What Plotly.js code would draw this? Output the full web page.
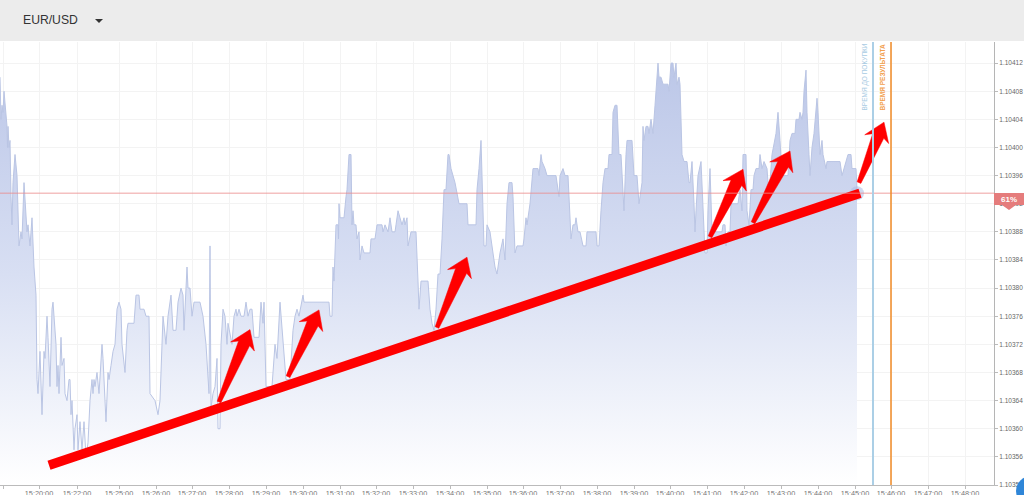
<!DOCTYPE html>
<html>
<head>
<meta charset="utf-8">
<script src="https://cdn.plot.ly/plotly-3.0.1.min.js"></script>
<style>
  html, body { margin: 0; padding: 0; background: #fff; overflow: hidden; }
  #chart { width: 1024px; height: 495px; }
  .topbar { position: absolute; left: 0; top: 0; width: 1024px; height: 41px; background: #ececec; z-index: 5; }
  .pair { position: absolute; left: 23px; top: 13px; font: 12.2px "Liberation Sans", Arial, sans-serif; color: #333; }
  .caret { position: absolute; left: 95px; top: 19px; width: 0; height: 0; border-left: 4px solid transparent; border-right: 4px solid transparent; border-top: 4px solid #333; }
  .bubble { position: absolute; left: 1016px; top: 476px; width: 30px; height: 30px; border-radius: 50%; background: #2f86d8; z-index: 5; }
</style>
</head>
<body>
<div class="topbar"><span class="pair">EUR/USD</span><span class="caret"></span></div>
<div id="chart"></div>
<div class="bubble"></div>
<script>
// quote number along the time axis (the axis labels are not evenly spaced in time)
const quoteNo = [0,1,2,3,4,7,7.5,8,9,10,11,12,13,15,17,18,19,21,22,24,26,27,28,30,32,34,36,37,38,40,42,44,45,47,48,50,52,53,56,57,58,59,61,62,64,65,67,69,70,71,72,74,75,77,78,80,82,84,86,88,90,92,93,94,95,97,99,100,102,103,106,108,109,111,113,115,117,119,121,122,125,127,128,134,136,139,140,144,146,149,150,
  155,158,160,162,163,166,168,171,173,176,178,181,183,184,187,188,190,192,194,200,203,206,207,209,210,211,213,215,217,218,220,221,223,225,227,228,232,234,236,237,239,241,244,246,248,250,252,254,259,261,263,264,266,272,275,277,280,283,286,290,293,295,297,299,303,304,329,330,332,333,334,336,338,338.5,339,340,344,346,347,349,351,352,353,354,356,357,359,360,362,364,370,371,375,377,382,383,385,388,390,392,395,396,398,400,402,404,405,407,408,411,416,418,419,421,428,430,432,434,436,438,440,442,444,446,448,449,451,455,459,467,468,476,477,479,481,482,484,486,487,490,492,495,497,499,500,503,505,507,509,512,513,515,517,523,524,526,527,530,531,533,538,539,541,542,545,547,556,557,559,560,563,565,568,571,573,575,576,578,580,583,586,587,596,597,599,601,603,605,608,609,612,613,615,617,619,621,623,624,626,627,632,633,634,637,639,642,643,644,646,648,649,651,653,655,658,659,661,663,668,669,671,673,674,676,677,679,680,682,684,687,689,690,692,694,695,696,698,701,703,705,707,708,710,712,715,718,722,723,725,726,728,730,731,738,740,742,743,746,747,749,751,753,754,756,759,760,762,764,767,769,772,776,778,780,782,788,790,792,795,796,799,800,802,803,804,806,807,809,810,812,814,817,818,820,822,823,826,827,840,842,844,848,851,852,856,857];

const quotePrice = [1.10410,1.10404,1.10406,1.10405,1.10408,1.10403,1.10400,1.10403,1.10400,1.10401,1.10393,1.10389,1.10395,1.10399,1.10396,1.10389,1.10386,1.10388,1.10387,1.10395,1.10389,1.10388,1.10389,1.10386,1.10390,1.10383,1.10379,1.10367,1.10365,1.10371,1.10362,1.10371,1.10370,1.10376,1.10373,1.10366,1.10377,1.10378,1.10372,1.10366,1.10369,1.10365,1.10373,1.10369,1.10370,1.10365,1.10364,1.10367,1.10367,1.10362,1.10364,1.10357,1.10360,1.10362,1.10357,1.10361,1.10357,1.10361,1.10356,1.10358,1.10364,1.10367,1.10365,1.10367,1.10366,1.10368,1.10365,1.10368,1.10372,1.10370,1.10361,1.10368,1.10367,1.10369,1.10371,1.10372,1.10377,1.10378,1.10377,1.10372,1.10368,1.10374,1.10375,1.10375,1.10379,1.10379,1.10377,1.10377,1.10376,1.10376,1.10365,
  1.10364,1.10362,1.10364,1.10372,1.10376,1.10372,1.10376,1.10379,1.10374,1.10374,1.10378,1.10380,1.10379,1.10374,1.10383,1.10380,1.10380,1.10376,1.10378,1.10378,1.10376,1.10372,1.10369,1.10365,1.10386,1.10363,1.10365,1.10366,1.10370,1.10360,1.10360,1.10372,1.10377,1.10376,1.10372,1.10375,1.10372,1.10376,1.10377,1.10376,1.10377,1.10376,1.10376,1.10378,1.10376,1.10377,1.10377,1.10373,1.10373,1.10378,1.10375,1.10378,1.10366,1.10366,1.10372,1.10370,1.10378,1.10372,1.10367,1.10367,1.10374,1.10376,1.10377,1.10376,1.10379,1.10378,1.10378,1.10376,1.10376,1.10383,1.10381,1.10389,1.10389,1.10387,1.10392,1.10390,1.10390,1.10393,1.10394,1.10399,1.10399,1.10389,1.10391,1.10389,1.10389,1.10387,1.10388,1.10384,1.10386,1.10385,1.10385,1.10387,1.10387,1.10389,1.10389,1.10388,1.10389,1.10388,1.10390,1.10388,1.10388,1.10389,1.10391,1.10390,1.10389,1.10390,1.10389,1.10390,1.10386,1.10388,1.10388,1.10381,1.10377,1.10381,1.10381,1.10377,1.10375,1.10374,1.10377,1.10382,1.10382,1.10387,1.10394,1.10394,1.10399,1.10399,1.10397,1.10395,1.10392,1.10392,1.10389,1.10389,1.10394,1.10397,1.10401,1.10396,1.10386,1.10386,1.10389,1.10388,1.10386,1.10383,1.10382,1.10384,1.10385,1.10387,1.10384,1.10392,1.10395,1.10395,1.10393,1.10385,1.10386,1.10386,1.10387,1.10390,1.10389,1.10392,1.10394,1.10397,1.10397,1.10396,1.10399,1.10398,1.10397,1.10396,1.10396,1.10395,1.10393,1.10396,1.10397,1.10396,1.10396,1.10387,1.10389,1.10389,1.10390,1.10388,1.10388,1.10386,1.10386,1.10388,1.10388,1.10386,1.10386,1.10391,1.10395,1.10397,1.10397,1.10399,1.10399,1.10405,1.10406,1.10406,1.10399,1.10399,1.10392,1.10391,1.10399,1.10401,1.10401,1.10399,1.10396,1.10396,1.10392,1.10395,1.10403,1.10401,1.10403,1.10403,1.10402,1.10404,1.10402,1.10406,1.10412,1.10410,1.10410,1.10409,1.10409,1.10408,1.10412,1.10412,1.10410,1.10412,1.10409,1.10410,1.10409,1.10399,1.10398,1.10398,1.10395,1.10395,1.10398,1.10392,1.10388,1.10391,1.10396,1.10398,1.10391,1.10385,1.10385,1.10391,1.10397,1.10388,1.10388,1.10388,1.10388,1.10389,1.10389,1.10386,1.10388,1.10388,1.10392,1.10392,1.10394,1.10391,1.10399,1.10399,1.10391,1.10389,1.10394,1.10394,1.10396,1.10397,1.10397,1.10399,1.10397,1.10398,1.10397,1.10393,1.10399,1.10402,1.10405,1.10401,1.10396,1.10396,1.10401,1.10402,1.10402,1.10404,1.10404,1.10405,1.10404,1.10405,1.10408,1.10411,1.10405,1.10399,1.10396,1.10400,1.10402,1.10407,1.10405,1.10399,1.10401,1.10399,1.10397,1.10398,1.10398,1.10396,1.10397,1.10399,1.10399,1.10397,1.10397,1.10394];

const tickQuote = [3,39,77,119,156,192,229,266,303,340,376,413,450,487,523,560,597,634,670,707,744,781,818,855,891,928,965];
const tickLabels = ['15:18:30','15:20:00','15:22:00','15:25:00','15:26:00','15:27:00','15:28:00','15:29:00','15:30:00','15:31:00','15:32:00','15:33:00','15:34:00','15:35:00','15:36:00','15:37:00','15:38:00','15:39:00','15:40:00','15:41:00','15:42:00','15:43:00','15:44:00','15:45:00','15:46:00','15:47:00','15:48:00'];

const currentPrice = 1.103935;
const buyLimitQuote = 873;
const resultQuote = 891;

// hand drawn trend line and arrows: [quote, price]
const trendFrom = [49, 1.103548];
const trendTo = [860, 1.103935];
const arrowTails = [[219,1.103638],[288,1.103674],[437,1.103744],[710,1.103873],[753,1.103893],[859,1.103950]];
const arrowTips = [[250,1.103741],[319,1.103769],[467,1.103844],[743,1.103969],[790,1.103995],[884,1.104036]];

const PRICE_SCALE = 703000; // screen units per 1.0 of price, keeps arrows in proportion

function arrowPolygon(tail, tip) {
    const dx = tip[0] - tail[0];
    const dy = (tip[1] - tail[1]) * PRICE_SCALE;
    const len = Math.hypot(dx, dy);
    const ux = dx / len, uy = dy / len;
    const nx = -uy, ny = ux;
    const pt = (along, side) => [
        tail[0] + ux * along + nx * side,
        tail[1] + (uy * along + ny * side) / PRICE_SCALE
    ];
    const pts = [pt(0, 2), pt(len - 15, 6), pt(len - 19, 13), pt(len, 0), pt(len - 18, -12.5), pt(len - 15, -6), pt(0, -2), pt(0, 2)];
    return { x: pts.map(p => p[0]), y: pts.map(p => p[1]) };
}

const traces = [
    {
        x: quoteNo,
        y: quotePrice,
        type: 'scatter',
        mode: 'lines',
        line: { color: '#bac5e4', width: 1 },
        fill: 'tozeroy',
        fillgradient: {
            type: 'vertical',
            start: 1.10352,
            stop: 1.10412,
            colorscale: [[0, '#ffffff'], [0.5, '#d8dff3'], [1, '#bcc7e8']]
        },
        hoverinfo: 'skip'
    },
    {
        x: [quoteNo[quoteNo.length - 1]],
        y: [currentPrice],
        type: 'scatter',
        mode: 'markers',
        marker: { size: 14, color: 'rgba(170,185,230,0.55)' },
        hoverinfo: 'skip'
    },
    {
        x: [trendFrom[0], trendTo[0]],
        y: [trendFrom[1], trendTo[1]],
        type: 'scatter',
        mode: 'lines',
        line: { color: '#ff0000', width: 9.5 },
        hoverinfo: 'skip'
    }
];

arrowTails.forEach((tail, i) => {
    const poly = arrowPolygon(tail, arrowTips[i]);
    traces.push({
        x: poly.x,
        y: poly.y,
        type: 'scatter',
        mode: 'lines',
        fill: 'toself',
        fillcolor: '#ff0000',
        line: { color: '#ff0000', width: 0.5 },
        hoverinfo: 'skip'
    });
});

const layout = {
    width: 1024,
    height: 495,
    margin: { l: 0, r: 30, t: 42, b: 10, pad: 0 },
    paper_bgcolor: '#ffffff',
    plot_bgcolor: '#ffffff',
    showlegend: false,
    hovermode: false,
    font: { family: '"Liberation Sans", Arial, sans-serif', size: 8, color: '#777' },
    xaxis: {
        range: [0, 994],
        tickvals: tickQuote,
        ticktext: tickLabels,
        tickangle: 0,
        ticks: 'outside',
        ticklen: 3,
        tickcolor: '#bbb',
        ticklabelstandoff: -2,
        gridcolor: '#f3f3f3',
        linecolor: '#bbb',
        showline: true,
        zeroline: false,
        tickfont: { size: 7.3, color: '#777' }
    },
    yaxis: {
        range: [1.10352, 1.10415],
        side: 'right',
        tick0: 1.10352,
        dtick: 0.00004,
        tickformat: '.5f',
        ticks: 'outside',
        ticklen: 3,
        tickcolor: '#bbb',
        gridcolor: '#f3f3f3',
        linecolor: '#b5b5b5',
        showline: true,
        zeroline: false,
        tickfont: { size: 6.5, color: '#666' }
    },
    shapes: [
        { type: 'line', xref: 'paper', x0: 0, x1: 1, yref: 'y', y0: currentPrice, y1: currentPrice, line: { color: 'rgba(235,140,140,0.55)', width: 1.5 } },
        { type: 'line', xref: 'x', x0: buyLimitQuote, x1: buyLimitQuote, yref: 'paper', y0: 0, y1: 1, line: { color: '#abcfe6', width: 2 } },
        { type: 'line', xref: 'x', x0: resultQuote, x1: resultQuote, yref: 'paper', y0: 0, y1: 1, line: { color: '#f08a24', width: 1.5 } },
        // the percentage flag on the price axis
        { type: 'path', xref: 'paper', yref: 'paper', path: 'M 1 0.659 L 1.031 0.659 L 1.031 0.632 L 1.022 0.632 L 1.0151 0.621 L 1.008 0.632 L 1 0.632 Z', fillcolor: '#e57c7c', line: { width: 0 } }
    ],
    annotations: [
        { text: 'ВРЕМЯ ДО ПОКУПКИ', xref: 'x', x: 864, yref: 'paper', y: 1, yanchor: 'top', textangle: -90, showarrow: false, font: { size: 6.5, color: '#a9cbe3' } },
        { text: '<b>ВРЕМЯ РЕЗУЛЬТАТА</b>', xref: 'x', x: 882, yref: 'paper', y: 1, yanchor: 'top', textangle: -90, showarrow: false, font: { size: 6.5, color: '#f2a04e' } },
        { text: '<b>61%</b>', xref: 'paper', x: 1.0155, xanchor: 'center', yref: 'paper', y: 0.6455, yanchor: 'middle', showarrow: false, font: { size: 8, color: '#ffffff' } }
    ]
};

Plotly.newPlot('chart', traces, layout, { displayModeBar: false, staticPlot: true });
</script>
</body>
</html>
